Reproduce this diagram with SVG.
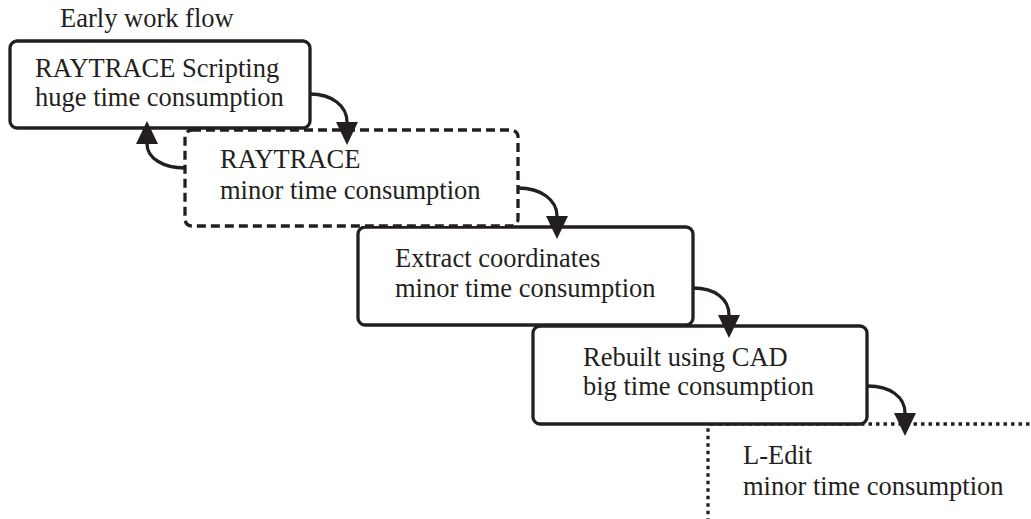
<svg xmlns="http://www.w3.org/2000/svg" width="1031" height="519" viewBox="0 0 1031 519" font-family="'Liberation Serif', serif">
<style>
text{font-family:'Liberation Serif',serif;font-size:26.5px;fill:#231f20}
.box{fill:#fff;stroke:#231f20;stroke-width:3.3}
.dash{stroke-dasharray:9 5}
.dot{stroke-dasharray:3.5 4}
.conn{fill:none;stroke:#231f20;stroke-width:3.3}
</style>
<defs>
<marker id="ah" markerUnits="userSpaceOnUse" markerWidth="24" markerHeight="24" refX="0" refY="11" orient="auto" viewBox="0 0 24 22">
<path d="M0,0 L23,11 L0,22 z" fill="#231f20"/>
</marker>
</defs>
<text x="60" y="27">Early work flow</text>
<g id="node5">
<rect class="box dot" x="708" y="424" width="400" height="200" rx="3"/>
<text x="743" y="464">L-Edit</text>
<text x="743" y="495">minor time consumption</text>
</g>
<g id="node4">
<rect class="box" x="533" y="326" width="334" height="98" rx="7"/>
<text x="583" y="366">Rebuilt using CAD</text>
<text x="583" y="395">big time consumption</text>
</g>
<g id="node3">
<rect class="box" x="358" y="227" width="335" height="98" rx="7"/>
<text x="395" y="267">Extract coordinates</text>
<text x="395" y="297">minor time consumption</text>
</g>
<g id="node2">
<rect class="box dash" x="185" y="130" width="333" height="96" rx="7"/>
<text x="220" y="168">RAYTRACE</text>
<text x="220" y="199">minor time consumption</text>
</g>
<g id="node1">
<rect class="box" x="10" y="41" width="300" height="87" rx="7"/>
<text x="35" y="77">RAYTRACE Scripting</text>
<text x="35" y="106">huge time consumption</text>
</g>
<g id="connectors">
<path class="conn" d="M310,94 C332,94 347,106 347,122" marker-end="url(#ah)"/>
<path class="conn" d="M185,168 C163,168 147,158 147,144" marker-end="url(#ah)"/>
<path class="conn" d="M518,188 C541,188 557,200 557,216" marker-end="url(#ah)"/>
<path class="conn" d="M693,288 C715,288 729,299 729,315" marker-end="url(#ah)"/>
<path class="conn" d="M868,386 C890,386 905,397 905,413" marker-end="url(#ah)"/>
</g>
</svg>
